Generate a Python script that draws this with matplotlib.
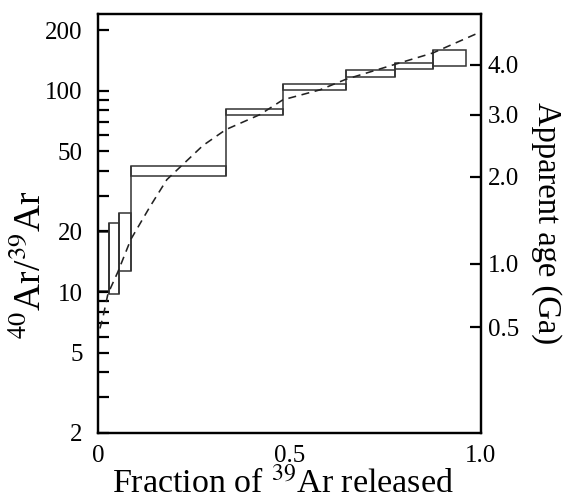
import numpy as np
import matplotlib.pyplot as plt
from matplotlib.ticker import FixedLocator, NullFormatter, NullLocator

plt.rcParams['font.family'] = ['Liberation Serif', 'DejaVu Serif']
plt.rcParams['mathtext.fontset'] = 'stix'

# step heating data: fraction of 39Ar released (step edges) and 40Ar/39Ar ranges
frac_edges = [0, 0.029, 0.055, 0.086, 0.334, 0.483, 0.648, 0.775, 0.875, 0.961]
ratio_lo = [10.1, 9.8, 12.7, 37.9, 76.1, 101.2, 117.6, 128, 133]
ratio_hi = [19.8, 22.0, 24.6, 42.1, 81.5, 107.9, 126, 137, 159]

# dashed model curve
curve_x = [0.005, 0.013, 0.026, 0.052, 0.086, 0.136, 0.180, 0.274, 0.334,
           0.423, 0.483, 0.580, 0.648, 0.775, 0.875, 1.0]
curve_y = [6.6, 7.5, 9.8, 12.6, 18.3, 26.6, 36.2, 53.4, 64.1,
           76.1, 90.1, 101, 114, 135, 154, 196]

# right axis: apparent age ticks and the 40Ar/39Ar values they sit at
age_labels = ['0.5', '1.0', '2.0', '3.0', '4.0']
age_ratio = [6.7, 13.8, 37.5, 76, 134.6]

left_ticks = [2, 5, 10, 20, 50, 100, 200]
left_labels = ['2', '5', '10', '20', '50', '100', '200']
minor_ticks = [3, 4, 6, 7, 8, 9, 30, 40, 60, 70, 80, 90]

fig = plt.figure(figsize=(5.63, 5.04), dpi=100)
ax = fig.add_axes([0.174, 0.141, 0.680, 0.831])

edges = np.array(frac_edges)
lo = np.array(ratio_lo)
hi = np.array(ratio_hi)
box_color = '#333333'

# each step as an open box
ax.bar(edges[:-1], hi - lo, width=np.diff(edges), bottom=lo,
       align='edge', fill=False, edgecolor=box_color, linewidth=1.1)
# vertical risers joining neighbouring steps
ax.vlines(edges[1:-1], np.minimum(lo[:-1], lo[1:]), np.maximum(hi[:-1], hi[1:]),
          color=box_color, linewidth=1.1)

ax.plot(curve_x, curve_y, color='#222222', linewidth=1.15, dashes=(5, 3.5))

ax.set_yscale('log')
ax.set_xlim(0, 1)
ax.set_ylim(2, 240)
ax.yaxis.set_major_locator(FixedLocator(left_ticks))
ax.yaxis.set_minor_locator(FixedLocator(minor_ticks))
ax.set_yticklabels(left_labels)
ax.yaxis.set_minor_formatter(NullFormatter())
ax.set_xticks([0, 0.5, 1.0])
ax.set_xticklabels(['0', '0.5', '1.0'])
ax.tick_params(axis='x', length=0, pad=9, labelsize=18)
ax.tick_params(axis='y', which='both', direction='in', length=8, width=1.6,
               pad=11, labelsize=18)
for s in ax.spines.values():
    s.set_linewidth(1.6)

ax2 = ax.twinx()
ax2.set_yscale('log')
ax2.set_ylim(2, 240)
ax2.yaxis.set_major_locator(FixedLocator(age_ratio))
ax2.yaxis.set_minor_locator(NullLocator())
ax2.set_yticklabels(age_labels)
ax2.tick_params(axis='y', direction='in', length=8, width=1.6, pad=5, labelsize=18)
for s in ax2.spines.values():
    s.set_linewidth(1.6)

ax.set_xlabel('Fraction of $^{39}$Ar released', fontsize=24.5)
ax.xaxis.set_label_coords(0.483, -0.084)
ax.set_ylabel('$^{40}$Ar/$^{39}$Ar', fontsize=27)
ax.yaxis.set_label_coords(-0.128, 0.40)
ax2.set_ylabel('Apparent age (Ga)', fontsize=23.5, rotation=270, labelpad=31)

fig.savefig('out.png', dpi=100)
